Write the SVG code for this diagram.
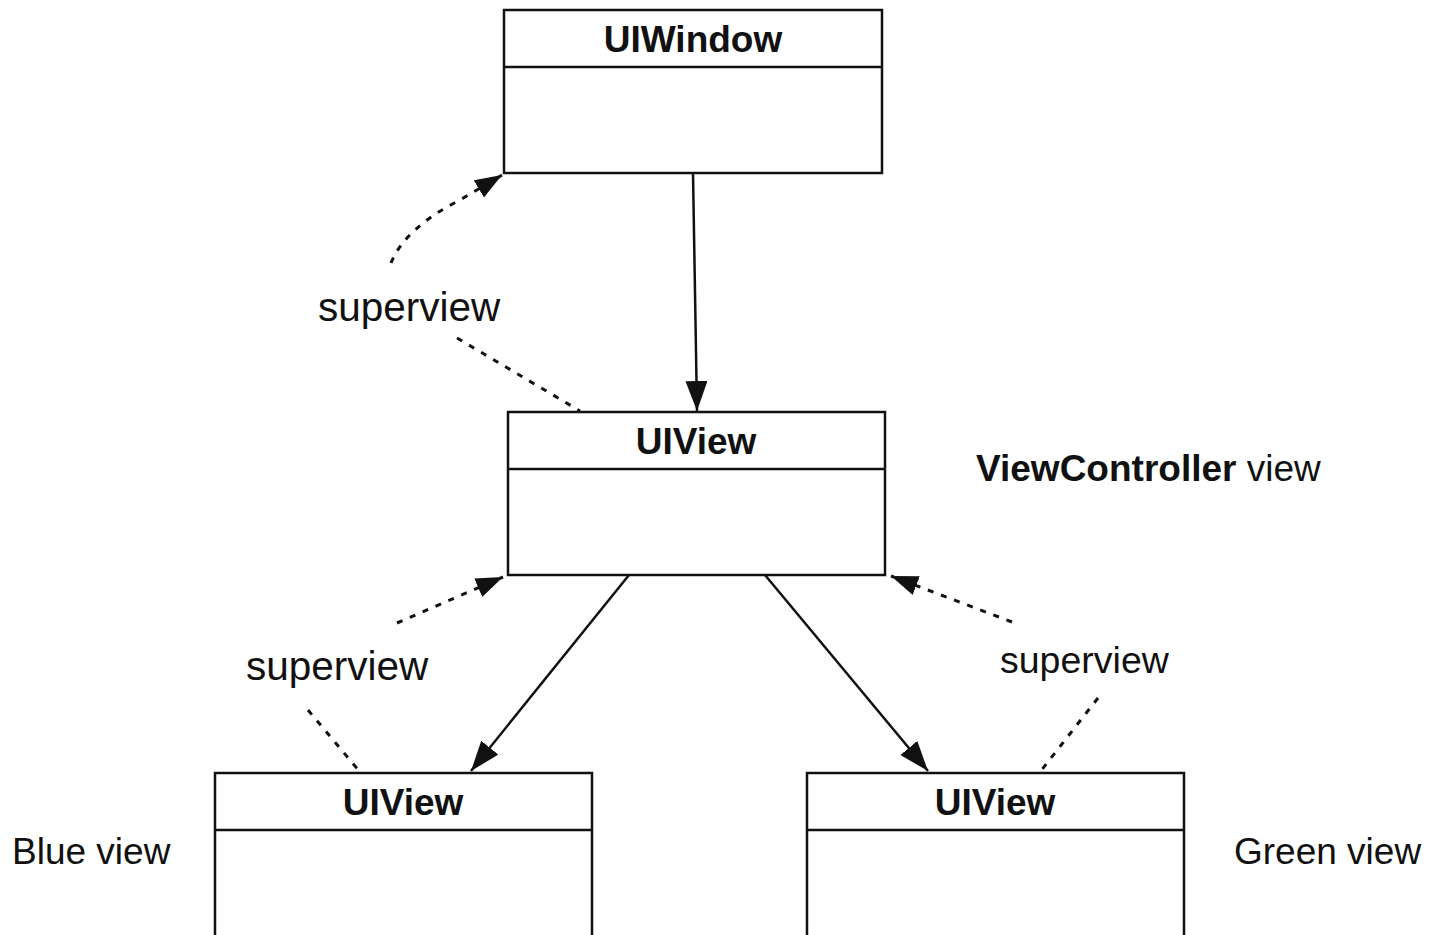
<svg xmlns="http://www.w3.org/2000/svg" width="1440" height="935" viewBox="0 0 1440 935">
<style>
.box{fill:#fff;stroke:#111;stroke-width:2.5}
.div{stroke:#111;stroke-width:2.5}
.title{font-family:"Liberation Sans",Arial,sans-serif;font-weight:bold;font-size:37px;fill:#111;text-anchor:middle}
.lbl{font-family:"Liberation Sans",Arial,sans-serif;font-size:37px;fill:#111}
.sv{font-family:"Liberation Sans",Arial,sans-serif;font-size:40.5px;fill:#111}
.solid{fill:none;stroke:#111;stroke-width:2.5}
.dash{fill:none;stroke:#111;stroke-width:3;stroke-dasharray:6 8}
</style>
<defs>
<marker id="ah" markerUnits="userSpaceOnUse" markerWidth="32" markerHeight="24" refX="30" refY="11" orient="auto">
<path d="M0,0 L30,11 L0,22 z" fill="#111"/>
</marker>
<marker id="ahd" markerUnits="userSpaceOnUse" markerWidth="28" markerHeight="22" refX="27" refY="10" orient="auto">
<path d="M0,0 L27,10 L0,20 z" fill="#111"/>
</marker>
</defs>
<rect width="1440" height="935" fill="#fff"/>
<g id="connectors">
<line class="solid" x1="693" y1="173" x2="697" y2="411" marker-end="url(#ah)"/>
<line class="solid" x1="629" y1="575" x2="471" y2="771" marker-end="url(#ah)"/>
<line class="solid" x1="765" y1="575" x2="928" y2="771" marker-end="url(#ah)"/>
<path class="dash" d="M391,263 Q405,228 460,200 L502,175" marker-end="url(#ahd)"/>
<line class="dash" x1="457" y1="338" x2="580" y2="411"/>
<line class="dash" x1="397" y1="623" x2="503" y2="577" marker-end="url(#ahd)"/>
<line class="dash" x1="308" y1="710" x2="360" y2="772"/>
<line class="dash" x1="1012" y1="622" x2="891" y2="576" marker-end="url(#ahd)"/>
<line class="dash" x1="1098" y1="698" x2="1040" y2="772"/>
</g>
<g id="uiwindow">
<rect class="box" x="504" y="10" width="378" height="163"/>
<line class="div" x1="504" y1="67" x2="882" y2="67"/>
<text class="title" x="693" y="52">UIWindow</text>
</g>
<g id="vc-view">
<rect class="box" x="508" y="412" width="377" height="163"/>
<line class="div" x1="508" y1="469" x2="885" y2="469"/>
<text class="title" x="696" y="454">UIView</text>
</g>
<g id="blue-view">
<rect class="box" x="215" y="773" width="377" height="180"/>
<line class="div" x1="215" y1="830" x2="592" y2="830"/>
<text class="title" x="403" y="815">UIView</text>
</g>
<g id="green-view">
<rect class="box" x="807" y="773" width="377" height="180"/>
<line class="div" x1="807" y1="830" x2="1184" y2="830"/>
<text class="title" x="995" y="815">UIView</text>
</g>
<g id="labels">
<text class="sv" x="318" y="321">superview</text>
<text class="sv" x="246" y="680">superview</text>
<text class="sv" x="1000" y="673" style="font-size:37.5px">superview</text>
<text class="lbl" x="976" y="481"><tspan font-weight="bold">ViewController</tspan> view</text>
<text class="lbl" x="12" y="864">Blue view</text>
<text class="lbl" x="1234" y="864">Green view</text>
</g>
</svg>
